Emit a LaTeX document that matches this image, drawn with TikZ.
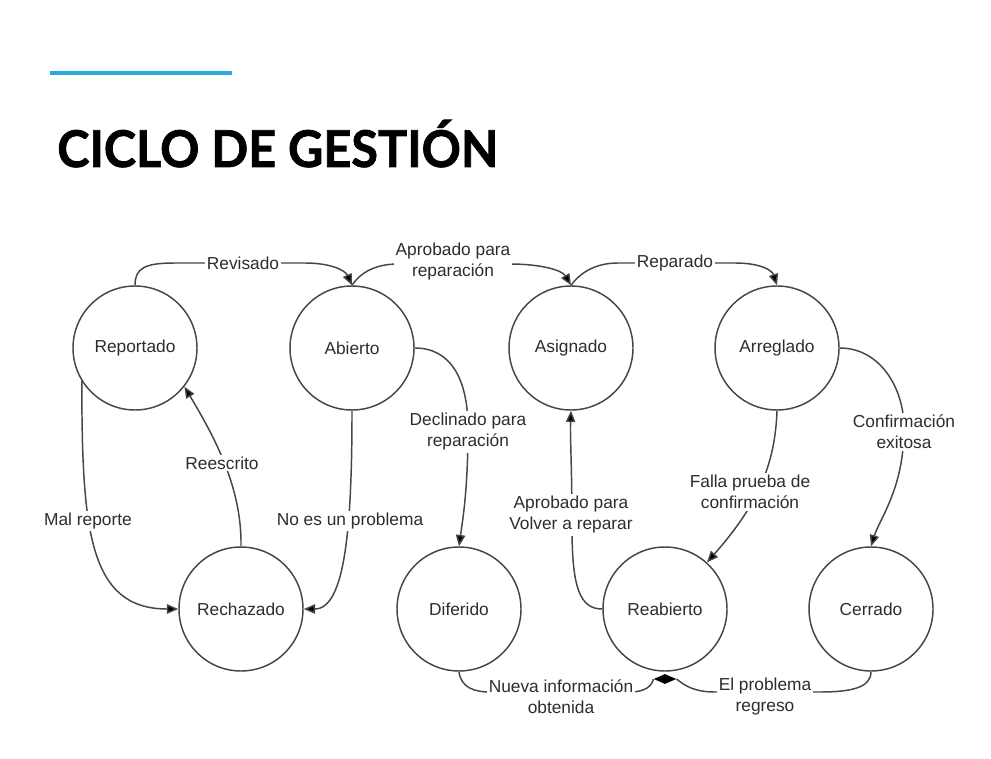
\documentclass[tikz,border=0pt]{standalone}
\usepackage{fontspec}
\setmainfont{Liberation Sans}
\newfontfamily\titlefont{Lato}[BoldFeatures={FakeBold=1.5}]
\usetikzlibrary{arrows.meta,shapes.geometric}
\definecolor{ln}{RGB}{70,70,70}
\definecolor{tx}{RGB}{45,45,45}
\definecolor{accent}{RGB}{41,171,226}
\begin{document}
\begin{tikzpicture}[x=0.75pt,y=0.75pt,
 state/.style={circle,draw=ln,line width=1.1pt,minimum size=93pt,inner sep=0pt,text=tx,font=\fontsize{13}{15.75}\selectfont},
 edge/.style={draw=ln,line width=1.1pt},
 arr/.style={edge,-{Triangle[length=8.5pt,width=7pt,fill=black]}},
 lbl/.style={fill=white,inner sep=1.5pt,align=center,text=tx,font=\fontsize{13}{15.75}\selectfont}]
\useasboundingbox[fill=white] (0,0) rectangle (991,758);
% header
\coordinate (b1) at (50,685);
\coordinate (b2) at (232,685);
\draw[accent,line width=3pt] (b1) -- (b2);
\node[anchor=base west,inner sep=0pt,xscale=0.96,font=\titlefont\bfseries\fontsize{38}{38}\selectfont] (title) at (57,591) {CICLO DE GESTIÓN};
% states
\node[state] (rep) at (135,410) {Reportado};
\node[state] (abi) at (352,410) {Abierto};
\node[state] (asi) at (571,410) {Asignado};
\node[state] (arr) at (777,410) {Arreglado};
\node[state] (rec) at (241,149) {Rechazado};
\node[state] (dif) at (459,149) {Diferido};
\node[state] (rea) at (665,149) {Reabierto};
\node[state] (cer) at (871,149) {Cerrado};
\node[diamond,fill=black,minimum width=17pt,minimum height=7.5pt,inner sep=0pt] (dm) at (665,79) {};
% edges
\draw[arr] (rep.north) .. controls (135,490) and (145,495) .. (175,495) -- (305,495) .. controls (330,495) and (345,488) .. (abi.north);
\draw[arr] (abi.north) .. controls (360,485) and (375,494) .. (398,494) -- (510,494) .. controls (540,494) and (562,488) .. (asi.north);
\draw[arr] (asi.north) .. controls (580,485) and (595,495) .. (618,495) -- (735,495) .. controls (760,495) and (772,488) .. (arr.north);
\draw[arr] (abi.east) .. controls (450,410) and (468,380) .. (468,330) .. controls (468,270) and (463,240) .. (dif.north);
\draw[arr] (rep.212) .. controls (82,230) and (88,149) .. (rec.west);
\draw[arr] (rec.north) .. controls (242,270) and (215,320) .. (rep.-38);
\draw[arr] (abi.south) .. controls (352,230) and (345,149) .. (rec.east);
\draw[arr] (rea.west) .. controls (580,149) and (572,170) .. (572,230) .. controls (572,290) and (570,320) .. (asi.south);
\draw[arr] (arr.south) .. controls (775,290) and (755,250) .. (rea.48);
\draw[arr] (arr.east) .. controls (880,410) and (904,370) .. (904,330) .. controls (904,270) and (880,240) .. (cer.north);
\draw[edge] (dif.south) .. controls (461,70) and (475,66) .. (490,66) -- (630,66) .. controls (645,66) and (652,72) .. (dm.west);
\draw[edge] (cer.south) .. controls (871,70) and (850,66) .. (820,66) -- (715,66) .. controls (695,66) and (685,72) .. (dm.east);
% labels
\node[lbl] (l1) at (243,495) {Revisado};
\node[lbl] (l2) at (453,496) {Aprobado para\\reparación};
\node[lbl] (l3) at (675,495) {Reparado};
\node[lbl] (l4) at (468,326) {Declinado para\\reparación};
\node[lbl] (l5) at (88,237) {Mal reporte};
\node[lbl] (l6) at (222,295) {Reescrito};
\node[lbl] (l7) at (350,237) {No es un problema};
\node[lbl] (l8) at (571,243) {Aprobado para\\Volver a reparar};
\node[lbl] (l9) at (750,266) {Falla prueba de\\confirmación};
\node[lbl] (l10) at (904,326) {Confirmación\\exitosa};
\node[lbl] (l11) at (561,61) {Nueva información\\obtenida};
\node[lbl] (l12) at (765,61) {El problema\\regreso};
\end{tikzpicture}
\end{document}
